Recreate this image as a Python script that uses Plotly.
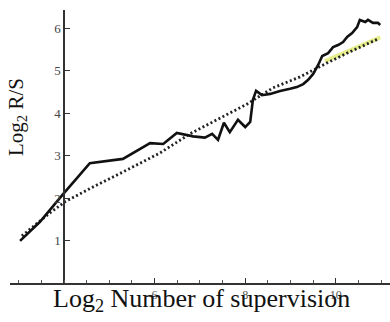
import plotly.graph_objects as go

# Observed log2 R/S (solid line)
obs_x = [3.03, 3.47, 3.98, 4.57, 5.30, 5.90, 6.19, 6.49, 6.85, 7.11, 7.27, 7.40, 7.53,
         7.66, 7.84, 8.00, 8.11, 8.17, 8.24, 8.37, 8.55, 8.77, 8.99, 9.14, 9.28, 9.39,
         9.50, 9.61, 9.70, 9.83, 9.94, 10.05, 10.16, 10.25, 10.36, 10.47, 10.53, 10.65,
         10.71, 10.82, 10.93, 10.98]
obs_y = [0.99, 1.44, 2.09, 2.82, 2.92, 3.29, 3.27, 3.53, 3.45, 3.42, 3.51, 3.37, 3.77,
         3.55, 3.84, 3.67, 3.79, 4.31, 4.52, 4.42, 4.45, 4.52, 4.57, 4.61, 4.68, 4.78,
         4.92, 5.13, 5.34, 5.41, 5.55, 5.60, 5.67, 5.79, 5.88, 6.02, 6.19, 6.14, 6.19,
         6.12, 6.12, 6.07]

# Expected / fitted line (dotted)
fit_x = [3.07, 3.69, 4.02, 4.64, 5.39, 6.12, 6.78, 7.51, 8.04, 8.61, 9.21, 9.81, 10.31, 10.93]
fit_y = [1.11, 1.65, 1.91, 2.26, 2.66, 3.06, 3.51, 3.91, 4.21, 4.59, 4.85, 5.18, 5.44, 5.74]

# Highlighted end segment (yellow)
hl_x = [9.76, 10.98]
hl_y = [5.22, 5.78]

x_tickvals = [6, 8, 10]
x_minor = [3.0, 3.5, 4.0, 4.5, 5.0, 5.5, 6.5, 7.0, 7.5, 8.5, 9.0, 9.5, 10.5, 11.0]
y_tickvals = [1, 2, 3, 4, 5, 6]

fig = go.Figure()
fig.add_trace(go.Scatter(x=hl_x, y=hl_y, mode="lines",
                         line=dict(color="#e6ef8c", width=4), hoverinfo="skip"))
fig.add_trace(go.Scatter(x=fit_x, y=fit_y, mode="lines",
                         line=dict(color="#222222", width=2.8, dash="2px,2.5px")))
fig.add_trace(go.Scatter(x=obs_x, y=obs_y, mode="lines",
                         line=dict(color="#111111", width=2.6)))

L, R, T, B = 10, 0, 10, 39
W, H = 390, 322
PH = H - T - B
fig.update_layout(
    width=W, height=H,
    margin=dict(l=L, r=R, t=T, b=B),
    paper_bgcolor="white", plot_bgcolor="white",
    showlegend=False,
    font=dict(family="Liberation Serif", color="#222222"),
    xaxis=dict(range=[2.808, 11.196], showgrid=False, zeroline=False,
               showline=True, linecolor="#333333", linewidth=1.5,
               tickmode="array", tickvals=x_tickvals,
               ticks="inside", ticklen=5, tickcolor="#333333",
               minor=dict(tickmode="array", tickvals=x_minor, ticks="inside",
                          ticklen=3, tickcolor="#555555"),
               tickfont=dict(size=12, family="Liberation Serif", color="#555555")),
    yaxis=dict(range=[0, 6.424], showgrid=False, zeroline=False,
               anchor="free", position=(64 - L) / (W - L - R),
               showline=True, linecolor="#333333", linewidth=1.5,
               tickmode="array", tickvals=y_tickvals,
               ticks="inside", ticklen=5, tickcolor="#333333",
               tickfont=dict(size=13, family="Liberation Serif", color="#444444")),
    annotations=[
        dict(text="Log<sub>2</sub> Number of supervision", x=(201 - L) / (W - L - R),
             y=(283 - 300) / PH, xref="paper", yref="paper", showarrow=False,
             xanchor="center", yanchor="middle",
             font=dict(size=26, family="Liberation Serif", color="#111111")),
        dict(text="Log<sub>2</sub> R/S", x=(17 - L) / (W - L - R), y=(283 - 117) / PH,
             xref="paper", yref="paper", showarrow=False, textangle=-90,
             xanchor="center", yanchor="middle",
             font=dict(size=21, family="Liberation Serif", color="#111111")),
    ],
)

fig.write_html("out.html")
